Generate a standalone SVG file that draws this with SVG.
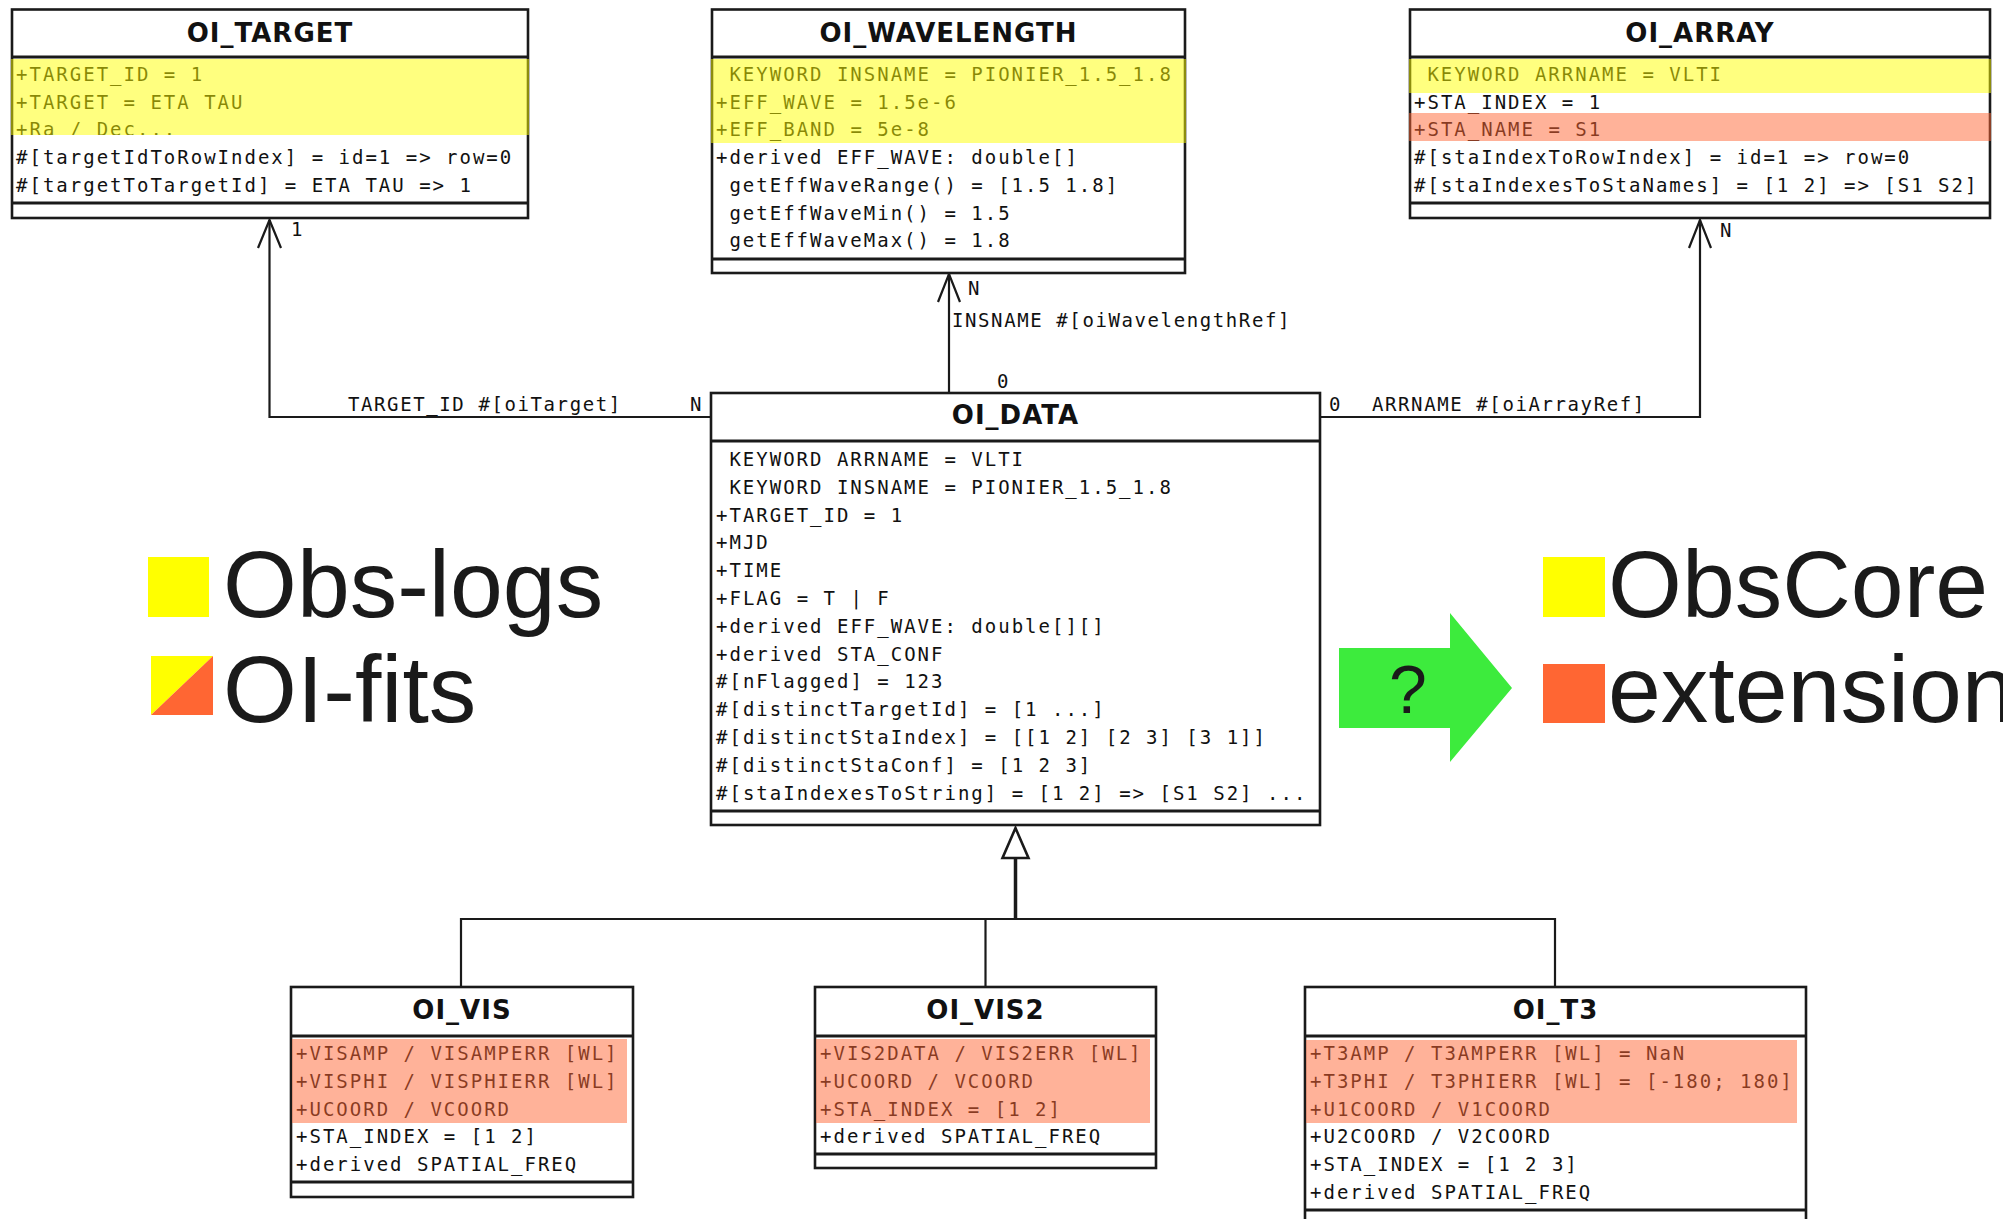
<svg xmlns="http://www.w3.org/2000/svg" width="2003" height="1219" viewBox="0 0 2003 1219">
<style>
.bg{fill:#fff}
.ol{fill:none;stroke:#1a1a1a;stroke-width:2.6}
.sep{stroke:#1a1a1a;stroke-width:3}
.title{font-family:"DejaVu Sans",sans-serif;font-weight:bold;font-size:26px;letter-spacing:1px;text-anchor:middle;fill:#111}
.a{font-family:"DejaVu Sans Mono",monospace;font-size:19px;letter-spacing:2px;fill:#111}
.yel{fill:#ffff00;fill-opacity:0.5}
.sal{fill:#ff6633;fill-opacity:0.5}
.conn{stroke:#1a1a1a;stroke-width:2.2;fill:none}
.lbl{font-family:"DejaVu Sans Mono",monospace;font-size:19px;letter-spacing:1.6px;fill:#111}
.leg{font-family:"Liberation Sans",Arial,sans-serif;font-size:95px;fill:#1a1a1a}
</style>
<rect width="2003" height="1219" fill="#fff"/>

<g id="connectors">
  <polyline class="conn" points="711,417 269.5,417 269.5,220"/>
  <polyline class="conn" points="258,248 269.5,220 281,248"/>
  <line class="conn" x1="949" y1="393" x2="949" y2="274"/>
  <polyline class="conn" points="938,302 949,274 960,302"/>
  <polyline class="conn" points="1320,417 1700,417 1700,220"/>
  <polyline class="conn" points="1689,248 1700,220 1711,248"/>
  <line x1="1015.5" y1="858" x2="1015.5" y2="920" stroke="#1a1a1a" stroke-width="3.5"/>
  <polyline class="conn" points="461,987 461,919 1555,919 1555,987"/>
  <line class="conn" x1="985.5" y1="919" x2="985.5" y2="987"/>
  <polygon points="1015.5,828 1002.5,858 1028.5,858" fill="#fff" stroke="#1a1a1a" stroke-width="2.6"/>
  <text class="lbl" x="348" y="411">TARGET_ID #[oiTarget]</text>
  <text class="lbl" x="690" y="411">N</text>
  <text class="lbl" x="291" y="236">1</text>
  <text class="lbl" x="952" y="327">INSNAME #[oiWavelengthRef]</text>
  <text class="lbl" x="968" y="295">N</text>
  <text class="lbl" x="997" y="388">0</text>
  <text class="lbl" x="1329" y="411">0</text>
  <text class="lbl" x="1372" y="411">ARRNAME #[oiArrayRef]</text>
  <text class="lbl" x="1720" y="237">N</text>
</g>

<g id="oi_target">
  <rect class="bg" x="12" y="9.5" width="516" height="208.5"/>
  <text class="title" x="270" y="41.5">OI_TARGET</text>
  <text class="a" x="16" y="81">+TARGET_ID = 1</text>
  <text class="a" x="16" y="108.7">+TARGET = ETA TAU</text>
  <text class="a" x="16" y="136">+Ra / Dec...</text>
  <rect class="bg" x="13.5" y="135" width="513" height="66"/>
  <text class="a" x="16" y="164.1">#[targetIdToRowIndex] = id=1 =&gt; row=0</text>
  <text class="a" x="16" y="191.8">#[targetToTargetId] = ETA TAU =&gt; 1</text>
  <rect class="ol" x="12" y="9.5" width="516" height="208.5"/>
  <line class="sep" x1="12" y1="57" x2="528" y2="57"/>
  <line class="sep" x1="12" y1="203" x2="528" y2="203"/>
  <rect class="yel" x="11" y="59" width="518" height="76"/>
</g>

<g id="oi_wavelength">
  <rect class="bg" x="712" y="9.5" width="473" height="263.5"/>
  <text class="title" x="948.5" y="41.5">OI_WAVELENGTH</text>
  <text class="a" x="729.4" y="81">KEYWORD INSNAME = PIONIER_1.5_1.8</text>
  <text class="a" x="716" y="108.7">+EFF_WAVE = 1.5e-6</text>
  <text class="a" x="716" y="136.4">+EFF_BAND = 5e-8</text>
  <text class="a" x="716" y="164.1">+derived EFF_WAVE: double[]</text>
  <text class="a" x="729.4" y="191.8">getEffWaveRange() = [1.5 1.8]</text>
  <text class="a" x="729.4" y="219.5">getEffWaveMin() = 1.5</text>
  <text class="a" x="729.4" y="247.2">getEffWaveMax() = 1.8</text>
  <rect class="ol" x="712" y="9.5" width="473" height="263.5"/>
  <line class="sep" x1="712" y1="57" x2="1185" y2="57"/>
  <line class="sep" x1="712" y1="259" x2="1185" y2="259"/>
  <rect class="yel" x="711" y="59" width="475" height="84"/>
</g>

<g id="oi_array">
  <rect class="bg" x="1410" y="9.5" width="580" height="208.5"/>
  <text class="title" x="1700" y="41.5">OI_ARRAY</text>
  <text class="a" x="1427.4" y="81">KEYWORD ARRNAME = VLTI</text>
  <text class="a" x="1414" y="108.7">+STA_INDEX = 1</text>
  <text class="a" x="1414" y="136.4">+STA_NAME = S1</text>
  <text class="a" x="1414" y="164.1">#[staIndexToRowIndex] = id=1 =&gt; row=0</text>
  <text class="a" x="1414" y="191.8">#[staIndexesToStaNames] = [1 2] =&gt; [S1 S2]</text>
  <rect class="ol" x="1410" y="9.5" width="580" height="208.5"/>
  <line class="sep" x1="1410" y1="57" x2="1990" y2="57"/>
  <line class="sep" x1="1410" y1="203" x2="1990" y2="203"/>
  <rect class="yel" x="1409" y="59" width="582" height="34"/>
  <rect class="sal" x="1409" y="113" width="582" height="28"/>
</g>

<g id="oi_data">
  <rect class="bg" x="711" y="393" width="609" height="432"/>
  <text class="title" x="1015.5" y="424">OI_DATA</text>
  <text class="a" x="729.4" y="466">KEYWORD ARRNAME = VLTI</text>
  <text class="a" x="729.4" y="493.8">KEYWORD INSNAME = PIONIER_1.5_1.8</text>
  <text class="a" x="716" y="521.6">+TARGET_ID = 1</text>
  <text class="a" x="716" y="549.4">+MJD</text>
  <text class="a" x="716" y="577.2">+TIME</text>
  <text class="a" x="716" y="605">+FLAG = T | F</text>
  <text class="a" x="716" y="632.8">+derived EFF_WAVE: double[][]</text>
  <text class="a" x="716" y="660.6">+derived STA_CONF</text>
  <text class="a" x="716" y="688.4">#[nFlagged] = 123</text>
  <text class="a" x="716" y="716.2">#[distinctTargetId] = [1 ...]</text>
  <text class="a" x="716" y="744">#[distinctStaIndex] = [[1 2] [2 3] [3 1]]</text>
  <text class="a" x="716" y="771.8">#[distinctStaConf] = [1 2 3]</text>
  <text class="a" x="716" y="799.6">#[staIndexesToString] = [1 2] =&gt; [S1 S2] ...</text>
  <rect class="ol" x="711" y="393" width="609" height="432"/>
  <line class="sep" x1="711" y1="441" x2="1320" y2="441"/>
  <line class="sep" x1="711" y1="811" x2="1320" y2="811"/>
</g>

<g id="oi_vis">
  <rect class="bg" x="291" y="987" width="342" height="210"/>
  <text class="title" x="462" y="1019">OI_VIS</text>
  <text class="a" x="296" y="1060">+VISAMP / VISAMPERR [WL]</text>
  <text class="a" x="296" y="1087.8">+VISPHI / VISPHIERR [WL]</text>
  <text class="a" x="296" y="1115.6">+UCOORD / VCOORD</text>
  <text class="a" x="296" y="1143.4">+STA_INDEX = [1 2]</text>
  <text class="a" x="296" y="1171.2">+derived SPATIAL_FREQ</text>
  <rect class="ol" x="291" y="987" width="342" height="210"/>
  <line class="sep" x1="291" y1="1036" x2="633" y2="1036"/>
  <line class="sep" x1="291" y1="1182" x2="633" y2="1182"/>
  <rect class="sal" x="292" y="1039" width="335" height="84"/>
</g>

<g id="oi_vis2">
  <rect class="bg" x="815" y="987" width="341" height="181"/>
  <text class="title" x="985.5" y="1019">OI_VIS2</text>
  <text class="a" x="820" y="1060">+VIS2DATA / VIS2ERR [WL]</text>
  <text class="a" x="820" y="1087.8">+UCOORD / VCOORD</text>
  <text class="a" x="820" y="1115.6">+STA_INDEX = [1 2]</text>
  <text class="a" x="820" y="1143.4">+derived SPATIAL_FREQ</text>
  <rect class="ol" x="815" y="987" width="341" height="181"/>
  <line class="sep" x1="815" y1="1036" x2="1156" y2="1036"/>
  <line class="sep" x1="815" y1="1154" x2="1156" y2="1154"/>
  <rect class="sal" x="816" y="1039" width="334" height="84"/>
</g>

<g id="oi_t3">
  <rect class="bg" x="1305" y="987" width="501" height="240"/>
  <text class="title" x="1555.5" y="1019">OI_T3</text>
  <text class="a" x="1310" y="1060">+T3AMP / T3AMPERR [WL] = NaN</text>
  <text class="a" x="1310" y="1087.8">+T3PHI / T3PHIERR [WL] = [-180; 180]</text>
  <text class="a" x="1310" y="1115.6">+U1COORD / V1COORD</text>
  <text class="a" x="1310" y="1143.4">+U2COORD / V2COORD</text>
  <text class="a" x="1310" y="1171.2">+STA_INDEX = [1 2 3]</text>
  <text class="a" x="1310" y="1199">+derived SPATIAL_FREQ</text>
  <rect class="ol" x="1305" y="987" width="501" height="240"/>
  <line class="sep" x1="1305" y1="1036" x2="1806" y2="1036"/>
  <line class="sep" x1="1305" y1="1210" x2="1806" y2="1210"/>
  <rect class="sal" x="1306" y="1040" width="491" height="83"/>
</g>

<g id="legend_left">
  <rect x="148" y="557" width="61" height="60" fill="#ffff00"/>
  <polygon points="151,656 213,656 151,715" fill="#ffff00"/>
  <polygon points="213,656 213,715 151,715" fill="#ff6633"/>
  <text class="leg" x="223" y="617">Obs-logs</text>
  <text class="leg" x="223" y="722">OI-fits</text>
</g>

<g id="arrow_question">
  <polygon points="1339,648 1450,648 1450,613 1512,688 1450,762 1450,728 1339,728" fill="#3deb3d"/>
  <text x="1408" y="713" font-family="Liberation Sans, Arial, sans-serif" font-size="68" text-anchor="middle" fill="#1a1a1a">?</text>
</g>

<g id="legend_right">
  <rect x="1543" y="557" width="62" height="60" fill="#ffff00"/>
  <rect x="1543" y="664" width="62" height="59" fill="#ff6633"/>
  <text class="leg" x="1608" y="617">ObsCore</text>
  <text class="leg" x="1608" y="722">extension</text>
</g>
</svg>
